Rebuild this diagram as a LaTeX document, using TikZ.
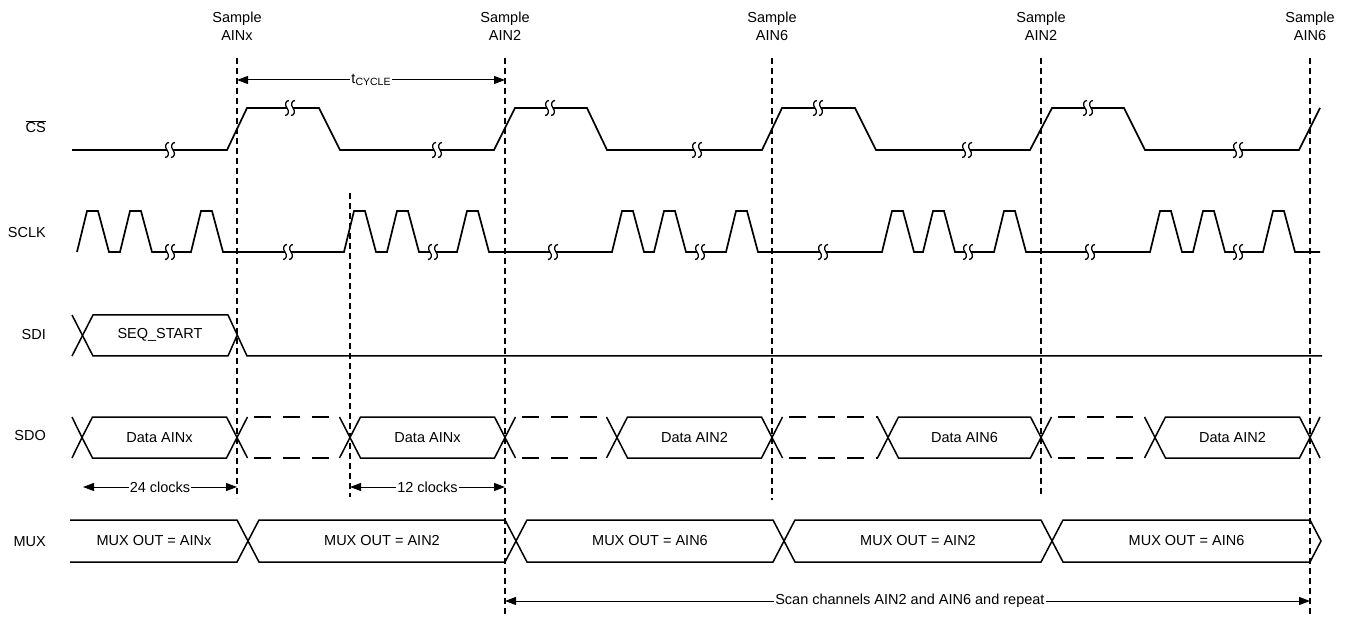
\documentclass[tikz,border=0pt]{standalone}
\usepackage{fontspec}
\setmainfont{Liberation Sans}
\usetikzlibrary{arrows.meta}
\begin{document}
\begin{tikzpicture}[x=1pt,y=-1pt,
  wave/.style={line width=1.7pt,line join=miter},
  bus/.style={line width=1.5pt,line join=miter},
  busdash/.style={line width=1.5pt,dash pattern=on 17pt off 12pt,dash phase=-6pt},
  vdash/.style={line width=1.1pt,dash pattern=on 6pt off 4pt},
  dim/.style={line width=1pt,{Triangle[length=11pt,width=8pt]}-{Triangle[length=11pt,width=8pt]}},
  lbl/.style={font=\fontsize{14.5}{18}\selectfont,inner sep=1pt},
  rowlbl/.style={lbl,anchor=east},
  brk/.pic={
    \fill[white] (-3,-3) rectangle (3,3);
    \draw[line width=1.3pt] (-1,-7.5) .. controls (-4.5,-7.5) and (-5.5,-3) .. (-3,0)
        .. controls (-0.5,3) and (-1.5,7.5) .. (-5,7.5);
    \draw[line width=1.3pt] (5,-7.5) .. controls (1.5,-7.5) and (0.5,-3) .. (3,0)
        .. controls (5.5,3) and (4.5,7.5) .. (1,7.5);
  }]
\useasboundingbox (0,0) rectangle (1346,617);

% ---- sample labels and vertical dashed lines
\foreach \x/\t [count=\i] in {237/AINx,505/AIN2,772/AIN6,1041/AIN2,1310/AIN6}
  \node[lbl,align=center] (s\i) at (\x,26) {Sample\\\t};
\draw[vdash] (237,58) -- (237,498);
\draw[vdash] (505,58) -- (505,617);
\draw[vdash] (772,58) -- (772,500);
\draw[vdash] (1041,58) -- (1041,496);
\draw[vdash] (1310,58) -- (1310,617);
\draw[vdash] (350,193) -- (350,497);

% ---- row labels
\node[rowlbl] (lcs) at (47,127) {$\overline{\mbox{CS}}$};
\node[rowlbl] (lsclk) at (47,233) {SCLK};
\node[rowlbl] (lsdi) at (47,335) {SDI};
\node[rowlbl] (lsdo) at (47,436) {SDO};
\node[rowlbl] (lmux) at (47,542) {MUX};

% ---- tCYCLE
\coordinate (tc1) at (237,80);
\coordinate (tc2) at (505,80);
\draw[dim] (tc1) -- (tc2) node[lbl,midway,fill=white] (tcyc) {t\raisebox{-2.5pt}{\fontsize{10.5}{11}\selectfont CYCLE}};

% ---- CS waveform
\draw[wave] (72,150) -- (227,150) -- (247,108) -- (319,108) -- (340,150)
  -- (494,150) -- (515,108) -- (587,108) -- (607,150)
  -- (762,150) -- (782,108) -- (855,108) -- (876,150)
  -- (1030,150) -- (1052,108) -- (1124,108) -- (1145,150)
  -- (1299,150) -- (1320,108);
\foreach \x/\y in {170/150,290/108,437/150,550/108,697/150,818/108,967/150,1088/108,1238/150}
  \pic at (\x,\y) {brk};

% ---- SCLK waveform
\draw[wave] (77,252) \foreach \a in {77,120,191,344,387,457,612,654,726,882,923,994,1150,1193,1263}
  { -- (\a,252) -- ++(10,-41) -- ++(11,0) -- ++(11,41) } -- (1320,252);
\foreach \x in {170,288,433,553,700,823,968,1090,1238}
  \pic at (\x,252) {brk};

% ---- SDI
\draw[bus] (72,315) -- (93,356) -- (228,356) -- (237,335.5);
\draw[bus] (72,356) -- (93,315) -- (228,315) -- (247,356) -- (1322,356);
\node[lbl] (seq) at (160,335) {SEQ\_START};

% ---- SDO
\draw[bus] (72,417) -- (82,437.5) -- (72,458);
\draw[bus] (1320,417) -- (1310,437.5) -- (1320,458);
\foreach \a/\b/\t [count=\i] in {82/237/Data AINx,350/505/Data AINx,617/772/Data AIN2,888/1041/Data AIN6,1155/1310/Data AIN2}{
  \draw[bus] (\a,437.5) -- ({\a+10.5},417) -- ({\b-10.5},417) -- (\b,437.5)
     -- ({\b-10.5},458) -- ({\a+10.5},458) -- cycle;
  \node[lbl] (sdo\i) at ({(\a+\b)/2},437.5) {\t};
}
\foreach \a/\b in {237/350,505/617,772/888,1041/1155}{
  \draw[bus] ({\a+10.5},417) -- (\a,437.5) -- ({\a+10.5},458);
  \draw[bus] ({\b-10.5},417) -- (\b,437.5) -- ({\b-10.5},458);
  \draw[busdash] ({\a+10.5},417) -- ({\b-10.5},417);
  \draw[busdash] ({\a+10.5},458) -- ({\b-10.5},458);
}

% ---- clock count arrows
\coordinate (c24a) at (83,487);
\coordinate (c24b) at (237,487);
\draw[dim] (c24a) -- (c24b) node[lbl,midway,fill=white] (c24) {24 clocks};
\coordinate (c12a) at (350,487);
\coordinate (c12b) at (505,487);
\draw[dim] (c12a) -- (c12b) node[lbl,midway,fill=white] (c12) {12 clocks};

% ---- MUX
\draw[bus] (70,520) -- (237,520) -- (248,541) -- (237,562) -- (70,562);
\foreach \a/\b/\t [count=\i] in {248/516/MUX OUT = AIN2,516/784/MUX OUT = AIN6,784/1052/MUX OUT = AIN2,1052/1321/MUX OUT = AIN6}{
  \draw[bus] (\a,541) -- ({\a+11},520) -- ({\b-11},520) -- (\b,541)
     -- ({\b-11},562) -- ({\a+11},562) -- cycle;
  \node[lbl] (mux\i) at ({(\a+\b)/2},541) {\t};
}
\node[lbl] (mux0) at (154,541) {MUX OUT = AINx};

% ---- scan arrow
\coordinate (sc1) at (505,601);
\coordinate (sc2) at (1310,601);
\draw[dim] (sc1) -- (sc2) node[lbl,pos=0.503,fill=white] (scan) {Scan channels AIN2 and AIN6 and repeat};
\end{tikzpicture}
\end{document}
